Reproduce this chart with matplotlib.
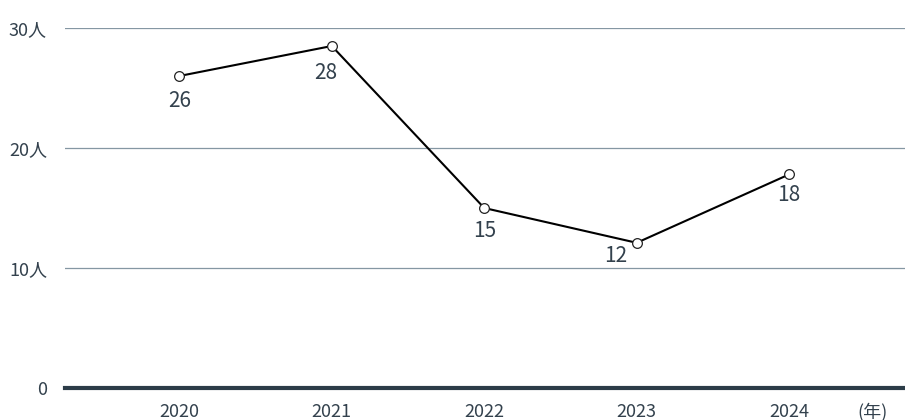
import matplotlib
matplotlib.use("Agg")
import matplotlib.pyplot as plt

plt.rcParams["font.family"] = ["Noto Sans CJK JP", "DejaVu Sans"]

years = [2020, 2021, 2022, 2023, 2024]
# point heights as drawn in the reference; labels are the printed numbers
values = [26.0, 28.5, 15.0, 12.1, 17.8]
value_labels = ["26", "28", "15", "12", "18"]
y_ticks = [0, 10, 20, 30]
y_tick_labels = ["0", "10人", "20人", "30人"]
x_unit = "(年)"

TEXT = "#33414d"
GRID = "#8597a3"
AXIS = "#2c3c48"

fig = plt.figure(figsize=(9.05, 4.2), dpi=100)
ax = fig.add_axes([65 / 905, 32 / 420, 840 / 905, 360 / 420])
ax.set_xlim(2019.25, 2024.76)
ax.set_ylim(0, 30)

for t in y_ticks[1:]:
    ax.axhline(t, color=GRID, linewidth=0.9, zorder=1)
ax.axhline(0, color=AXIS, linewidth=3, zorder=2, clip_on=False)

ax.plot(years, values, color="black", linewidth=1.5, zorder=3, clip_on=False,
        marker="o", markersize=7, markerfacecolor="white",
        markeredgecolor="#222222", markeredgewidth=0.9)

offsets = [(0, -25), (-6, -27), (0, -23), (-21, -13), (0, -21)]
for (x, v, lab), (dx, dy) in zip(zip(years, values, value_labels), offsets):
    ax.annotate(lab, (x, v), xytext=(dx, dy), textcoords="offset pixels",
                ha="center", va="center", fontsize=15, color=TEXT)

ax.set_yticks(y_ticks)
ax.set_yticklabels(y_tick_labels)
ax.set_xticks(years)
ax.set_xticklabels([str(y) for y in years])
ax.tick_params(axis="y", length=0, pad=13, labelsize=13, labelcolor=TEXT)
ax.tick_params(axis="x", length=0, pad=11, labelsize=13, labelcolor=TEXT)
ax.annotate(x_unit, (2024.55, 0), xytext=(0, -24), textcoords="offset pixels",
            ha="center", va="center", fontsize=13, color=TEXT,
            annotation_clip=False)

for s in ax.spines.values():
    s.set_visible(False)

fig.savefig("out.png", dpi=100)
